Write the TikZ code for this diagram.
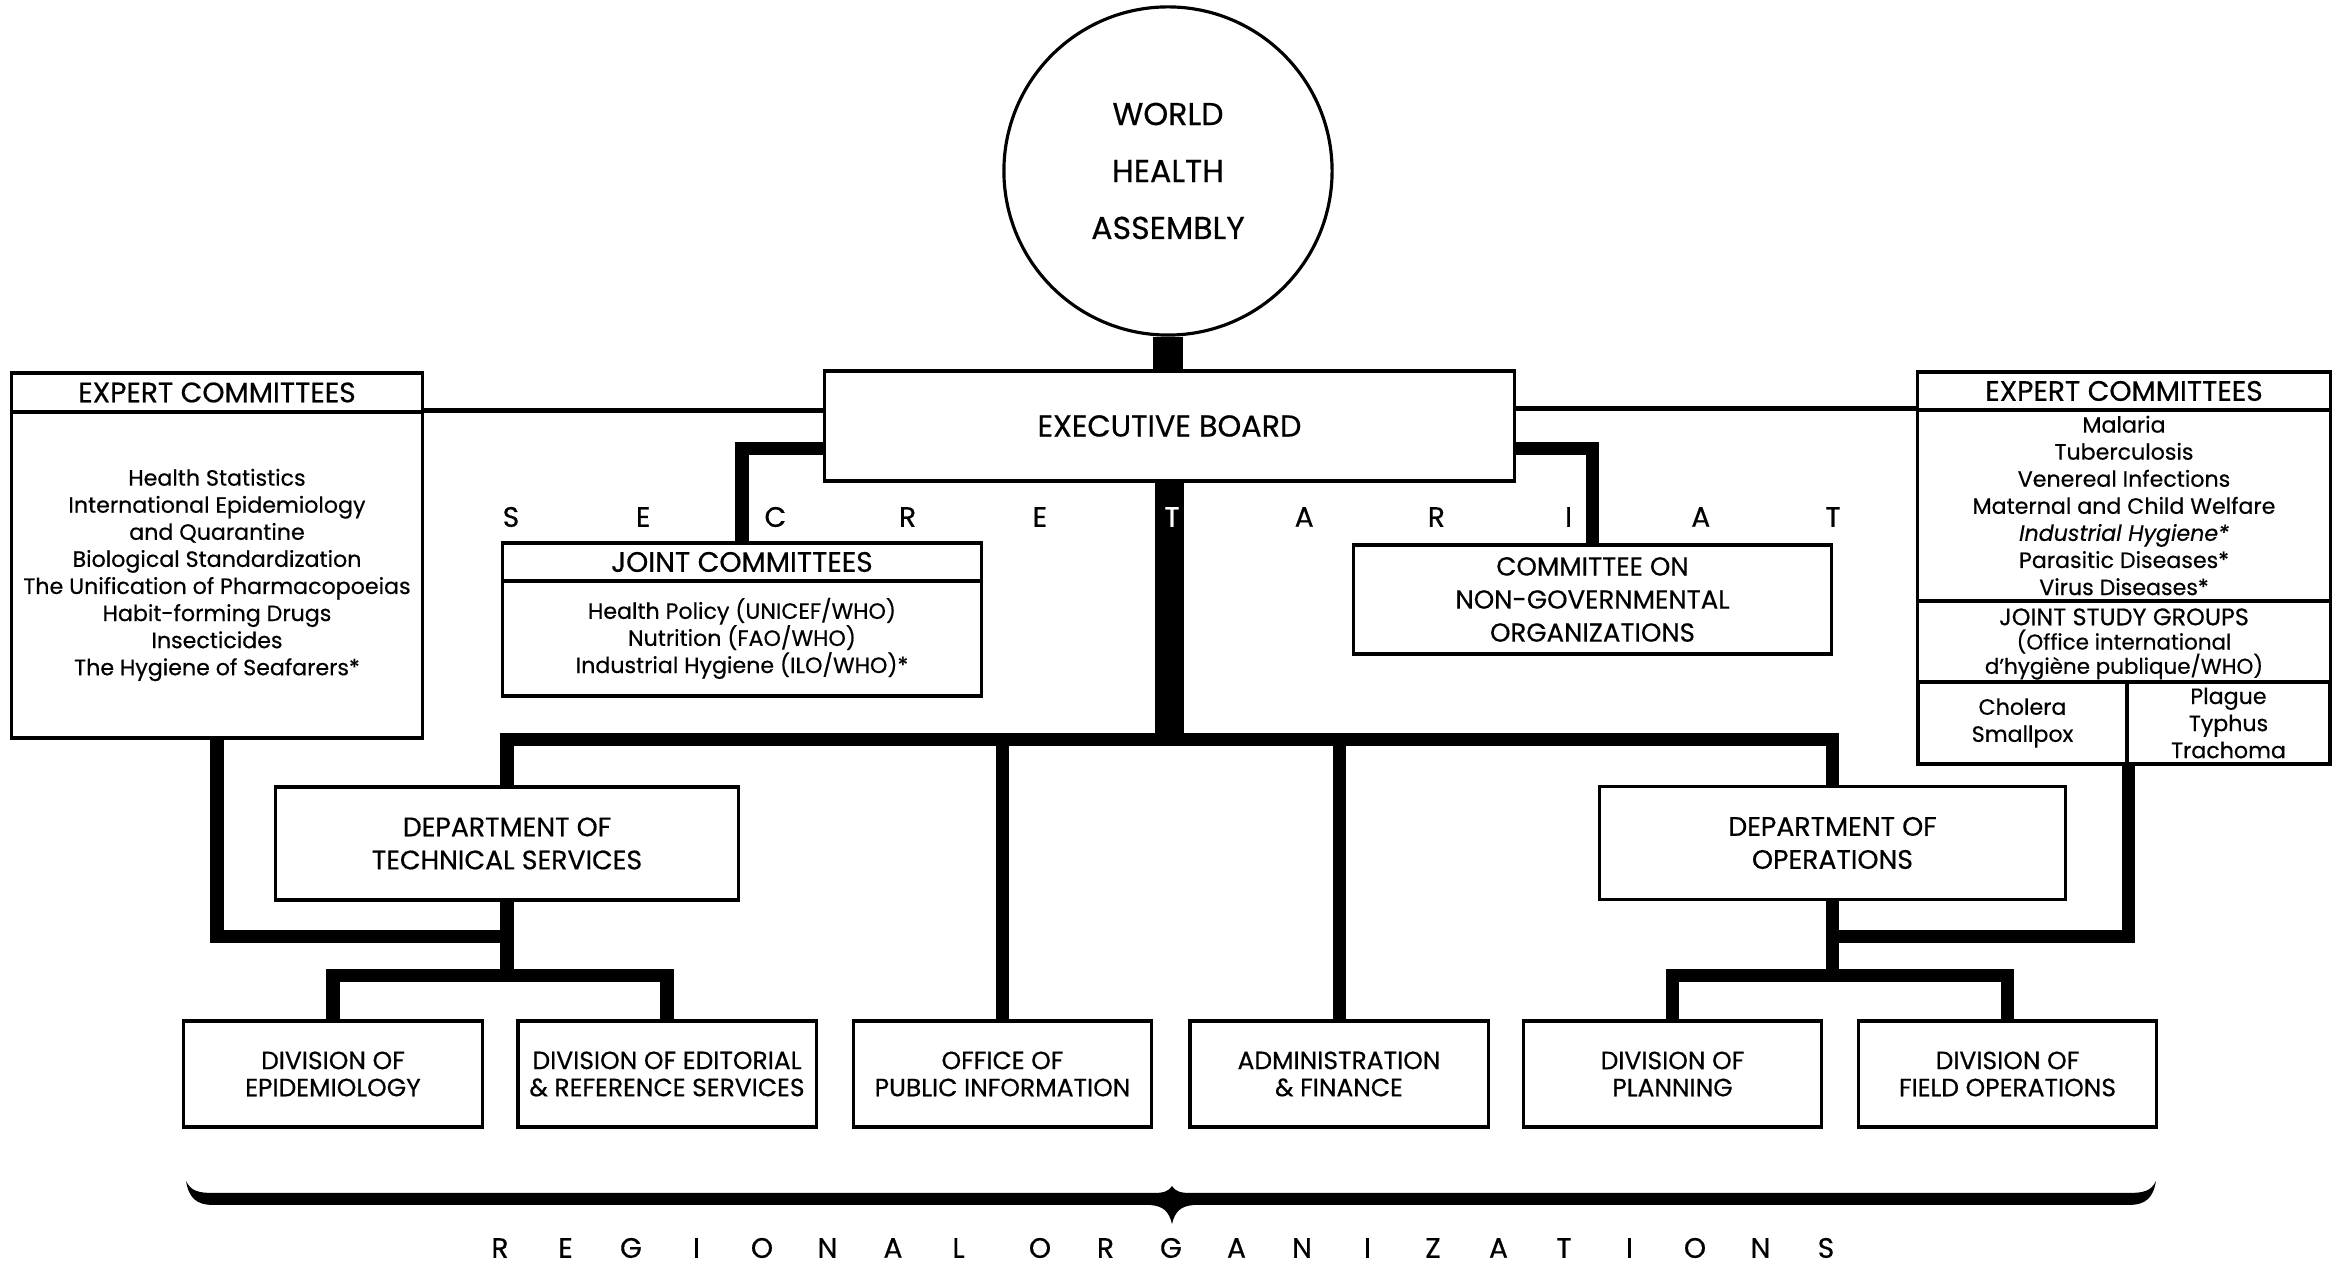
\documentclass[tikz,border=0pt]{standalone}
\usepackage{fontspec}
\setmainfont{Poppins}[FakeBold=0.5]
\usetikzlibrary{positioning}

\begin{document}
\begin{tikzpicture}[x=0.01cm, y=-0.01cm,
  box/.style={draw, line width=0.9pt, inner sep=0pt, align=center},
  trunk/.style={line width=8.5pt},
  bus/.style={line width=3.7pt},
  elink/.style={line width=1.4pt},
  hd/.style={font=\fontsize{8}{9}\selectfont},
  item/.style={font=\fontsize{6.3}{7.7}\selectfont},
  dept/.style={box, minimum height=1.13cm, font=\fontsize{7.6}{9.4}\selectfont},
  div/.style={box, minimum width=2.98cm, minimum height=1.06cm, font=\fontsize{7.1}{7.7}\selectfont}]
  \useasboundingbox (0,0) rectangle (2335,1268);

  % assembly and board
  \node[box, circle, minimum size=3.28cm, font=\fontsize{9}{16.2}\selectfont] (wha) at (1168,171) {WORLD\\HEALTH\\ASSEMBLY};
  \node[box, minimum width=6.89cm, minimum height=1.10cm, font=\fontsize{8.6}{9}\selectfont] (board) at (1169.5,426) {EXECUTIVE BOARD};

  % expert committees, left
  \node[box, hd, minimum width=4.10cm, minimum height=0.39cm] (ecl-head) at (217,392.5) {EXPERT COMMITTEES};
  \node[box, item, minimum width=4.10cm, minimum height=3.26cm] (ecl-body) at (217,575) {Health Statistics\\International Epidemiology\\and Quarantine\\Biological Standardization\\The Unification of Pharmacopoeias\\Habit-forming Drugs\\Insecticides\\The Hygiene of Seafarers*};

  % expert committees, right
  \node[box, hd, minimum width=4.12cm, minimum height=0.38cm] (ecr-head) at (2124,391) {EXPERT COMMITTEES};
  \node[box, item, minimum width=4.12cm, minimum height=1.91cm] (ecr-list) at (2124,505.5) {Malaria\\Tuberculosis\\Venereal Infections\\Maternal and Child Welfare\\\textit{Industrial Hygiene*}\\Parasitic Diseases*\\Virus Diseases*};
  \node[box, minimum width=4.12cm, minimum height=0.81cm] (ecr-study) at (2124,641.5) {};
  \node[font=\fontsize{6.1}{6.9}\selectfont, align=center, inner sep=0pt] (ecr-study-text) at (2124,644) {{\fontsize{6.8}{6.9}\selectfont JOINT STUDY GROUPS}\\(Office international\\d'hygiène publique/WHO)};
  \node[box, item, minimum width=2.09cm, minimum height=0.82cm] (cholera) at (2022.5,723) {Cholera\\Smallpox};
  \node[box, item, minimum width=2.03cm, minimum height=0.82cm] (plague) at (2228.5,723) {Plague\\Typhus\\Trachoma};

  % committees under the board
  \node[box, hd, minimum width=4.78cm, minimum height=0.38cm] (joint-head) at (742,562) {JOINT COMMITTEES};
  \node[box, item, minimum width=4.78cm, minimum height=1.15cm] (joint-body) at (742,638.5) {Health Policy (UNICEF/WHO)\\Nutrition (FAO/WHO)\\Industrial Hygiene (ILO/WHO)*};
  \node[box, font=\fontsize{7.4}{9.4}\selectfont, minimum width=4.77cm, minimum height=1.09cm] (ngo) at (1592.5,599.5) {COMMITTEE ON\\NON-GOVERNMENTAL\\ORGANIZATIONS};

  % departments and divisions
  \node[dept, minimum width=4.62cm] (tech) at (507,843.5) {DEPARTMENT OF\\TECHNICAL SERVICES};
  \node[dept, minimum width=4.65cm] (ops) at (1832.5,843) {DEPARTMENT OF\\OPERATIONS};
  \node[div] (epi) at (333,1074) {DIVISION OF\\EPIDEMIOLOGY};
  \node[div] (edit) at (667,1074) {DIVISION OF EDITORIAL\\\& REFERENCE SERVICES};
  \node[div] (pubinfo) at (1002.5,1074) {OFFICE OF\\PUBLIC INFORMATION};
  \node[div] (admin) at (1339,1074) {ADMINISTRATION\\\& FINANCE};
  \node[div] (plan) at (1672.5,1074) {DIVISION OF\\PLANNING};
  \node[div] (field) at (2007.5,1074) {DIVISION OF\\FIELD OPERATIONS};

  \coordinate (bus) at (1169,740);
  \coordinate (techjoin) at (507,937);
  \coordinate (techsub) at (507,976);
  \coordinate (opsjoin) at (1832.5,937);
  \coordinate (opssub) at (1832.5,976);

  % connectors
  \draw[trunk] (wha.south) -- (wha.south |- board.north);
  \draw[trunk] (board.south) -- (board.south |- bus);
  \draw[bus] (tech.north) |- (bus) -| (ops.north);
  \draw[bus] (pubinfo.north) -- (pubinfo.north |- bus);
  \draw[bus] (admin.north) -- (admin.north |- bus);
  \draw[bus] (board.south west) ++(0,-34) -| (joint-head.north);
  \draw[bus] (board.south east) ++(0,-34) -| (ngo.north);
  \draw[elink] (ecl-body.north east) -- (ecl-body.north east -| board.west);
  \draw[elink] (ecr-list.north west) -- (ecr-list.north west -| board.east);
  \draw[bus] (tech.south) -- (techsub);
  \draw[bus] (epi.north) |- (techsub) -| (edit.north);
  \draw[bus] (ecl-body.south) |- (techjoin);
  \draw[bus] (ops.south) -- (opssub);
  \draw[bus] (plan.north) |- (opssub) -| (field.north);
  \draw[bus] (cholera.south east) |- (opsjoin);

  % secretariat
  \foreach \ch/\col [count=\i from 0] in {S/black,E/black,C/black,R/black,E/black,T/white,A/black,R/black,I/black,A/black,T/black}
    \node[hd, text=\col] (sec-\i) at (511+132.2*\i,517) {\ch};

  % regional brace
  \fill (186,1181) .. controls (189,1198) and (196,1205) .. (214,1205)
    -- (1150,1205) .. controls (1164,1206) and (1169,1212) .. (1172,1224)
    .. controls (1175,1212) and (1180,1206) .. (1194,1205)
    -- (2128,1205) .. controls (2146,1205) and (2153,1198) .. (2156,1181)
    .. controls (2151,1191) and (2144,1193) .. (2128,1193)
    -- (1190,1193) .. controls (1180,1193) and (1175,1191) .. (1172,1186)
    .. controls (1169,1191) and (1164,1193) .. (1154,1193)
    -- (214,1193) .. controls (198,1193) and (191,1191) .. cycle;
  \foreach \ch [count=\i from 0] in {R,E,G,I,O,N,A,L}
    \node[hd] (reg-\i) at (500+65.5*\i,1248) {\ch};
  \foreach \ch [count=\i from 0] in {O,R,G,A,N,I,Z,A,T,I,O,N,S}
    \node[hd] (org-\i) at (1040+65.5*\i,1248) {\ch};
\end{tikzpicture}
\end{document}
